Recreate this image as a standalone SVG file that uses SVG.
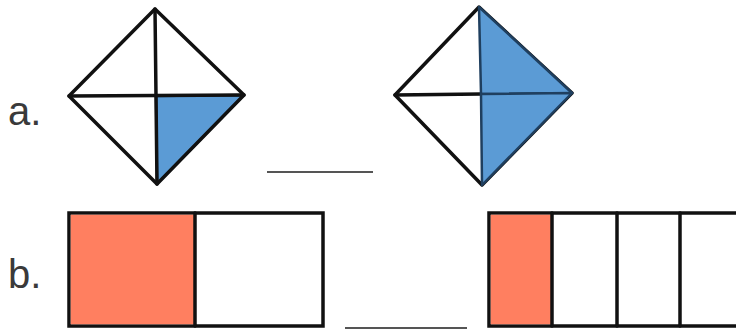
<svg xmlns="http://www.w3.org/2000/svg" width="736" height="331" viewBox="0 0 736 331">
<style>
.lbl{font-family:"Liberation Sans",Arial,sans-serif;font-size:40px;fill:#3a3a3a}
.ln{stroke:#111;stroke-width:3.5;fill:none;stroke-linejoin:round;stroke-linecap:round}
.blue{fill:#5B9BD5;stroke:#1F3F5F;stroke-width:2.5;stroke-linejoin:round}
.bx{stroke:#111;stroke-width:3.5;fill:#fff}
.or{fill:#FF7F60}
.ans{stroke:#555;stroke-width:2}
</style>
<rect width="736" height="331" fill="#fff"/>
<g id="label-a"><text class="lbl" x="8" y="125">a.</text></g>
<g id="label-b"><text class="lbl" x="8" y="288">b.</text></g>
<g id="diamond1">
<polygon class="blue" points="156,96 244,95 157,184"/>
<polygon class="ln" points="155,9 244,95 157,184 69,96"/>
<line class="ln" x1="155" y1="9" x2="157" y2="184"/>
<line class="ln" x1="69" y1="96" x2="244" y2="95"/>
</g>
<g id="diamond2">
<polygon class="ln" points="479,7 572,93 482,185 395,95"/>
<line class="ln" x1="395" y1="95" x2="481" y2="94"/>
<polygon class="blue" points="479,7 572,93 481,94"/>
<polygon class="blue" points="481,94 572,93 482,185"/>
</g>
<g id="blank1"><line class="ans" x1="267" y1="172" x2="373" y2="172"/></g>
<g id="blank2"><line class="ans" x1="345" y1="328" x2="467" y2="328"/></g>
<g id="bar1">
<rect class="bx" x="69" y="213" width="254" height="113"/>
<rect class="or" x="70.75" y="214.75" width="124.25" height="109.5"/>
<line class="ln" x1="195" y1="213" x2="195" y2="326"/>
</g>
<g id="bar2">
<rect class="bx" x="489" y="213" width="260" height="113"/>
<rect class="or" x="490.75" y="214.75" width="61.25" height="109.5"/>
<line class="ln" x1="552" y1="213" x2="552" y2="326"/>
<line class="ln" x1="617" y1="213" x2="617" y2="326"/>
<line class="ln" x1="680" y1="213" x2="680" y2="326"/>
</g>
</svg>
